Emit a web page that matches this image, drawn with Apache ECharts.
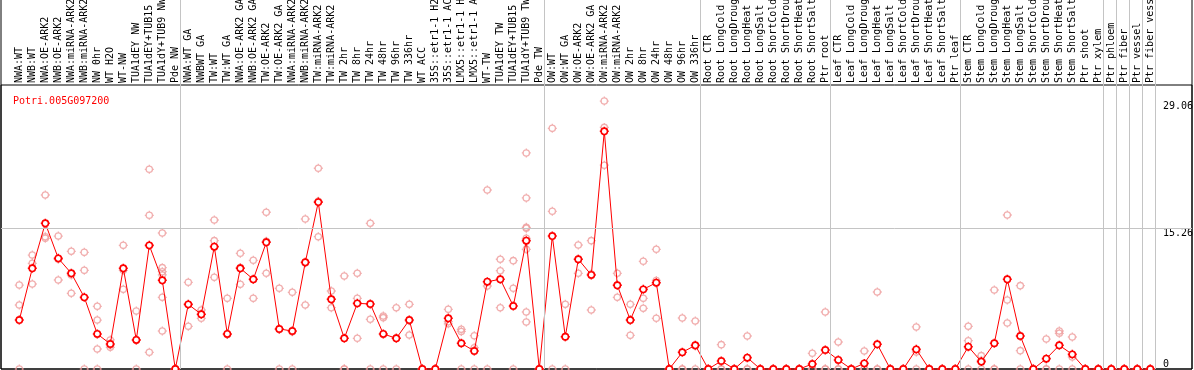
<!DOCTYPE html>
<html>
<head>
<meta charset="utf-8">
<script src="https://cdn.jsdelivr.net/npm/echarts@6/dist/echarts.min.js"></script>
<style>
html,body{margin:0;padding:0;background:#fff;}
#chart{width:1194px;height:370px;}
</style>
</head>
<body>
<div id="chart"></div>
<script>
const title = 'Potri.005G097200';

const categories = [
  'NWA:WT','NWB:WT','NWA:OE-ARK2','NWB:OE-ARK2','NWA:miRNA-ARK2','NWB:miRNA-ARK2','NW 0hr','WT H2O','WT-NW','TUA1dEY NW','TUA1dEY+TUB15 NW','TUA1dY+TUB9 NW','Pde NW',
  'NWA:WT GA','NWBWT GA','TW:WT','TW:WT GA','NWA:OE-ARK2 GA','NWB:OE-ARK2 GA','TW:OE-ARK2','TW:OE-ARK2 GA','NWA:miRNA-ARK2 GA','NWB:miRNA-ARK2 GA','TW:miRNA-ARK2','TW:miRNA-ARK2 GA','TW 2hr','TW 8hr','TW 24hr','TW 48hr','TW 96hr','TW 336hr','WT ACC','35S::etr1-1 H2O','35S::etr1-1 ACC','LMX5::etr1-1 H2O','LMX5::etr1-1 ACC','WT-TW','TUA1dEY TW','TUA1dEY+TUB15 TW','TUA1dY+TUB9 TW','Pde TW',
  'OW:WT','OW:WT GA','OW:OE-ARK2','OW:OE-ARK2 GA','OW:miRNA-ARK2','OW:miRNA-ARK2 GA','OW 2hr','OW 8hr','OW 24hr','OW 48hr','OW 96hr','OW 336hr',
  'Root CTR','Root LongCold','Root LongDrought','Root LongHeat','Root LongSalt','Root ShortCold','Root ShortDrought','Root ShortHeat','Root ShortSalt','Ptr root',
  'Leaf CTR','Leaf LongCold','Leaf LongDrought','Leaf LongHeat','Leaf LongSalt','Leaf ShortCold','Leaf ShortDrought','Leaf ShortHeat','Leaf ShortSalt','Ptr leaf',
  'Stem CTR','Stem LongCold','Stem LongDrought','Stem LongHeat','Stem LongSalt','Stem ShortCold','Stem ShortDrought','Stem ShortHeat','Stem ShortSalt','Ptr shoot','Ptr xylem',
  'Ptr phloem','Ptr fiber','Ptr vessel','Ptr fiber vessel'
];

// number of categories in each separated block
const groupSizes = [13, 28, 12, 10, 10, 11, 1, 1, 1, 1];

const means = [
  5.31, 10.92, 15.8, 12.0, 10.38, 7.77, 3.8, 2.71, 10.92, 3.15, 13.41, 9.62, 0,
  7.01, 5.93, 13.27, 3.8, 10.92, 9.73, 13.74, 4.34, 4.12, 11.57, 18.1, 7.56, 3.33, 7.12, 7.05, 3.8, 3.33, 5.31, 0, 0, 5.5, 2.79, 1.95, 9.47, 9.73, 6.83, 13.92, 0,
  14.42, 3.5, 11.9, 10.2, 25.78, 9.08, 5.31, 8.64, 9.36, 0, 1.81, 2.57,
  0, 0.87, 0, 1.23, 0, 0, 0, 0, 0.54, 2.06,
  0.98, 0, 0.61, 2.68, 0, 0, 2.13, 0, 0, 0,
  2.42, 0.8, 2.79, 9.73, 3.58, 0, 1.12, 2.57, 1.59, 0, 0,
  0, 0, 0, 0
];

const replicates = [
  [9.1, 6.94, 0], [12.36, 11.46, 9.22], [18.87, 14.35, 14.17], [14.42, 11.9, 9.65], [12.76, 10.2, 8.21],
  [12.65, 10.7, 0], [6.8, 5.31, 2.17, 0], [3.15, 2.6, 2.35], [13.41, 10.7, 8.64], [6.29, 3.16, 0],
  [21.66, 16.67, 1.81], [14.75, 10.99, 10.55, 10.2, 7.77, 4.12], [0, 0, 0],
  [9.4, 7.0, 4.63], [6.4, 5.9, 5.5], [16.16, 13.92, 9.94], [7.66, 3.74, 0], [12.55, 11.0, 9.18],
  [11.79, 9.7, 7.66], [17.0, 13.85, 10.38], [8.75, 4.3, 0], [8.32, 4.05, 0], [16.27, 11.5, 6.94],
  [21.77, 18.2, 14.35], [8.46, 7.57, 6.65], [10.09, 0, 0], [10.38, 7.66, 3.33], [15.8, 5.39, 0],
  [5.75, 5.57, 0], [6.65, 3.35, 0], [7.01, 5.23, 3.69], [0, 0, 0], [0, 0, 0],
  [6.47, 5.13, 4.9], [4.3, 4.07, 0], [3.61, 2.31, 0], [19.41, 9.0, 0], [11.9, 10.66, 6.65],
  [11.75, 8.75, 0], [23.43, 18.55, 15.37, 15.26, 14.17, 12.98, 6.18, 5.1], [0, 0, 0],
  [26.1, 17.1, 0], [7.01, 3.5, 0], [13.45, 11.9, 10.38], [13.92, 10.3, 6.4], [29.06, 26.2, 22.1],
  [10.38, 9.1, 7.77], [7.01, 5.3, 3.65], [11.68, 7.66, 6.58], [12.98, 9.6, 5.5], [0, 0, 0],
  [5.53, 0, 0], [5.21, 2.5, 0],
  [0, 0, 0], [2.64, 0, 0], [0, 0, 0], [3.58, 0, 0], [0, 0, 0], [0, 0, 0], [0, 0, 0], [0, 0, 0], [1.7, 0, 0], [6.18, 0, 0],
  [2.93, 0, 0], [0, 0, 0], [1.95, 0, 0], [8.35, 0, 0], [0, 0, 0], [0, 0, 0], [4.56, 1.84, 0], [0, 0, 0], [0, 0, 0], [0, 0, 0],
  [4.63, 3.07, 0], [1.45, 0.95, 0], [8.57, 0, 0], [16.7, 7.48, 4.99], [9.04, 1.99, 0], [0, 0, 0], [3.25, 0, 0], [4.12, 3.87, 0], [3.47, 1.3, 0], [0, 0, 0], [0, 0, 0],
  [0, 0, 0], [0, 0, 0], [0, 0, 0], [0, 0, 0]
];

const yTickLabels = [0, 15.26, 29.06];
const gridLineValue = 15.26;

// ---- layout / style ----
const W = 1194, H = 370;
const PLOT_TOP = 85, ZERO_Y = 369;
const TOP_VALUE = 30.8;                       // value at the plot's top border
const FULL_MAX = TOP_VALUE * ZERO_Y / (ZERO_Y - PLOT_TOP);
const CAT_LEFT = 12.8, CAT_W = 13;
const FONT = 'DejaVu Sans Mono';
const RED = '#ff0000', PINK = '#ee9a9a', GRIDC = '#c4c4c4';
const SYM = 'path://M10,3A7,7,0,1,1,9.99,3ZM10,0L10,3M10,17L10,20M0,10L3,10M17,10L20,10';

const repData = [];
replicates.forEach((arr, i) => arr.forEach(v => repData.push([i, v])));

const bounds = [0];
groupSizes.forEach(s => bounds.push(bounds[bounds.length - 1] + s));

const chart = echarts.init(document.getElementById('chart'), null, {renderer: 'canvas'});
chart.setOption({
  animation: false,
  backgroundColor: '#fff',
  title: {
    text: title, left: 8, top: 91,
    textStyle: {color: RED, fontFamily: FONT, fontSize: 10, fontWeight: 'normal'}
  },
  grid: [
    {left: CAT_LEFT, width: categories.length * CAT_W, top: 0, bottom: H - ZERO_Y, containLabel: false, outerBoundsMode: 'none'},
    {left: 1, right: 2, top: PLOT_TOP, bottom: H - ZERO_Y, show: true, borderColor: '#000', borderWidth: 1, backgroundColor: 'transparent', outerBoundsMode: 'none'},
    {left: CAT_LEFT, width: categories.length * CAT_W, top: 0, bottom: H - ZERO_Y, outerBoundsMode: 'none'},
    {left: 1, right: 2, top: -1, bottom: H - ZERO_Y, show: true, borderColor: '#000', borderWidth: 1, backgroundColor: 'transparent', outerBoundsMode: 'none'}
  ],
  xAxis: [
    {
      gridIndex: 0, type: 'category', data: categories, position: 'top', offset: -(PLOT_TOP),
      boundaryGap: true,
      axisLine: {show: false}, axisTick: {show: false}, splitLine: {show: false},
      axisLabel: {interval: 0, rotate: 90, margin: 2, color: '#000', fontFamily: FONT, fontSize: 10, hideOverlap: false}
    },
    {gridIndex: 1, type: 'value', show: false, min: 0, max: 1},
    {gridIndex: 2, type: 'value', show: false, min: -0.5, max: categories.length - 0.5},
    {gridIndex: 3, type: 'value', show: false, min: 0, max: 1}
  ],
  yAxis: [
    {gridIndex: 0, type: 'value', show: false, min: 0, max: FULL_MAX},
    {
      gridIndex: 1, type: 'value', min: 0, max: TOP_VALUE, position: 'right',
      axisLine: {show: false}, axisTick: {show: false}, splitLine: {show: false},
      axisLabel: {
        inside: true, align: 'left', margin: 29, verticalAlign: 'top',
        customValues: yTickLabels.filter(v => v > 0),
        color: '#000', fontFamily: FONT, fontSize: 10,
        formatter: v => String(v)
      }
    },
    {
      gridIndex: 1, type: 'value', min: 0, max: TOP_VALUE, position: 'right',
      axisLine: {show: false}, axisTick: {show: false}, splitLine: {show: false},
      axisLabel: {
        inside: true, align: 'left', margin: 29, verticalAlign: 'bottom',
        customValues: yTickLabels.filter(v => v === 0),
        color: '#000', fontFamily: FONT, fontSize: 10,
        formatter: v => String(v)
      }
    },
    {gridIndex: 2, type: 'value', show: false, min: 0, max: 1},
    {gridIndex: 3, type: 'value', show: false, min: 0, max: 1}
  ],
  series: [
    {
      type: 'line', xAxisIndex: 2, yAxisIndex: 3, silent: true,
      data: bounds.map(b => [b - 0.6, -1]), showSymbol: false, lineStyle: {opacity: 0},
      markLine: {
        silent: true, symbol: ['none', 'none'], label: {show: false},
        lineStyle: {color: GRIDC, width: 1, type: 'solid'},
        data: bounds.map(b => ({xAxis: b - 0.6}))
      }
    },
    {
      type: 'line', xAxisIndex: 1, yAxisIndex: 1, silent: true,
      data: [[0, -1]], showSymbol: false, lineStyle: {opacity: 0},
      markLine: {
        silent: true, symbol: ['none', 'none'], label: {show: false},
        lineStyle: {color: GRIDC, width: 1, type: 'solid'},
        data: [{yAxis: gridLineValue}]
      }
    },
    {
      type: 'scatter', xAxisIndex: 0, yAxisIndex: 0, data: repData,
      symbol: SYM, symbolSize: 9, clip: false,
      itemStyle: {color: 'rgba(255,255,255,0)', borderColor: PINK, borderWidth: 1.3}
    },
    {
      type: 'line', xAxisIndex: 0, yAxisIndex: 0, data: means,
      symbol: SYM, symbolSize: 9, showAllSymbol: true, clip: false,
      lineStyle: {color: RED, width: 1},
      itemStyle: {color: '#fff', borderColor: RED, borderWidth: 1.6}
    }
  ]
});
</script>
</body>
</html>
